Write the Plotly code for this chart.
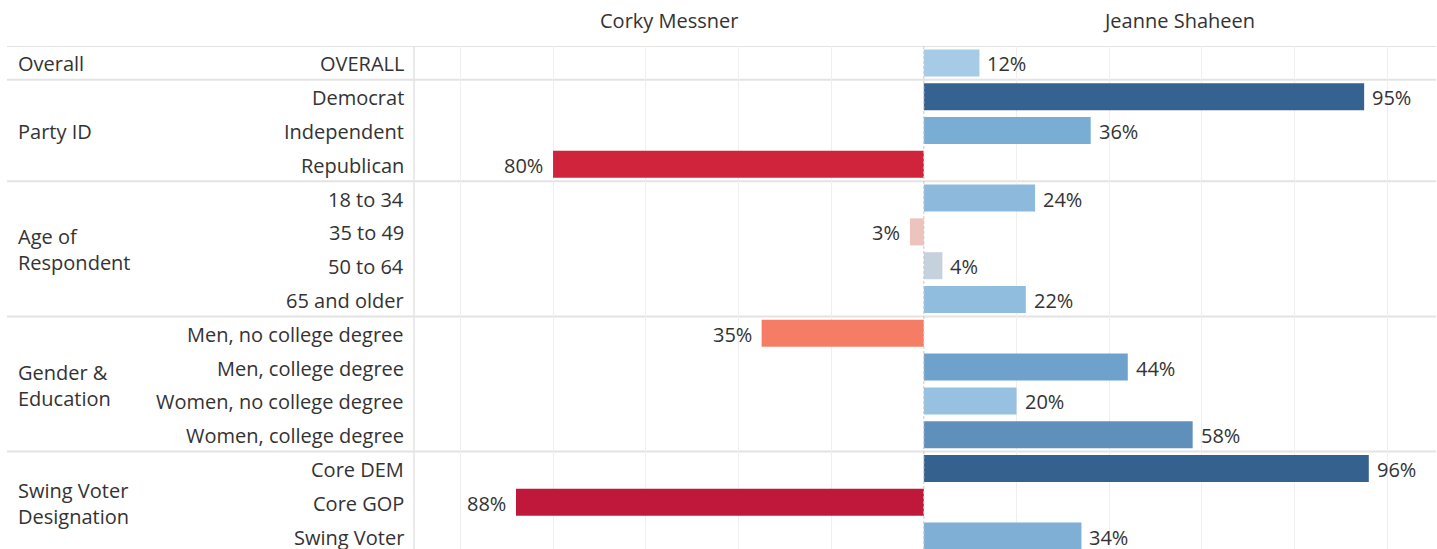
import plotly.graph_objects as go

# ---- data ----
groups = ["Overall", "Party ID", "Age of<br>Respondent", "Gender &<br>Education", "Swing Voter<br>Designation"]
group_sizes = [1, 3, 4, 4, 3]
rows = ["OVERALL", "Democrat", "Independent", "Republican",
        "18 to 34", "35 to 49", "50 to 64", "65 and older",
        "Men, no college degree", "Men, college degree", "Women, no college degree", "Women, college degree",
        "Core DEM", "Core GOP", "Swing Voter"]
# signed margin: negative = Corky Messner lead, positive = Jeanne Shaheen lead
margins = [12, 95, 36, -80, 24, -3, 4, 22, -35, 44, 20, 58, 96, -88, 34]
candidates = ["Corky Messner", "Jeanne Shaheen"]
colors = ["#a6cbe6", "#356290", "#7aadd3", "#cf243b", "#8dbadc", "#ecc3bd", "#c5d2dd", "#90bcdd",
          "#f57d66", "#6ea1cb", "#96c1e0", "#5f90bb", "#34618d", "#c0183a", "#7fafd5"]

FONT = "Open Sans"
TXT = "#333333"
FS = 20

W, H = 1437, 549
ML, MR, MT, MB = 414, 1, 46, 0
plot_w = W - ML - MR
row_px = 33.8
ymax = -0.5 + (H - MT - MB) / row_px

idx = list(range(len(rows)))

fig = go.Figure()
fig.add_trace(go.Bar(
    x=margins, y=idx, orientation="h", marker=dict(color=colors, line=dict(width=0)),
    width=0.8, hoverinfo="skip", showlegend=False,
))

ann = []
for i, v in enumerate(margins):
    ann.append(dict(x=v, y=i, xref="x", yref="y", text=f"{abs(v)}%", showarrow=False,
                    xanchor="left" if v >= 0 else "right", xshift=6 if v >= 0 else -8,
                    yshift=-1, font=dict(family=FONT, size=FS, color=TXT)))
    ann.append(dict(x=(406 - ML) / plot_w, y=i, xref="paper", yref="y", text=rows[i], showarrow=False,
                    xanchor="right", yshift=-1, font=dict(family=FONT, size=FS, color=TXT)))

start = 0
shapes = []
for g, n in zip(groups, group_sizes):
    center = start + (n - 1) / 2
    ann.append(dict(x=(16 - ML) / plot_w, y=center, xref="paper", yref="y", text=g, showarrow=False,
                    xanchor="left", align="left", yshift=-1, font=dict(family=FONT, size=FS, color=TXT)))
    shapes.append(dict(type="line", xref="paper", yref="y", x0=(7 - ML) / plot_w, x1=1,
                       y0=start - 0.5, y1=start - 0.5, line=dict(color="#e3e3e3", width=2), layer="below"))
    start += n

# column headers
hy = 1 + (MT - 20) / (H - MT - MB)
ann.append(dict(x=-55, y=hy, xref="x", yref="paper", text=candidates[0], yanchor="middle",
                showarrow=False, font=dict(family=FONT, size=FS, color=TXT)))
ann.append(dict(x=55, y=hy, xref="x", yref="paper", text=candidates[1], yanchor="middle",
                showarrow=False, font=dict(family=FONT, size=FS, color=TXT)))

# pane left border
shapes.append(dict(type="line", xref="paper", yref="paper", x0=0, x1=0, y0=0, y1=1,
                   line=dict(color="#e3e3e3", width=1.5), layer="below"))
# zero line dashed
shapes.append(dict(type="line", xref="x", yref="paper", x0=0, x1=0, y0=0, y1=1,
                   line=dict(color="#c8c8c8", width=1, dash="3px,2px"), layer="above"))

fig.update_layout(
    width=W, height=H, margin=dict(l=ML, r=MR, t=MT, b=MB),
    paper_bgcolor="white", plot_bgcolor="white",
    xaxis=dict(range=[-110, 110.5], tickvals=[-100, -80, -60, -40, -20, 20, 40, 60, 80, 100],
               showticklabels=False, showgrid=True, gridcolor="#efefef", gridwidth=1,
               zeroline=False, fixedrange=True),
    yaxis=dict(range=[ymax, -0.5], showticklabels=False, showgrid=False, zeroline=False, fixedrange=True),
    annotations=ann, shapes=shapes, bargap=0.2,
)
fig.write_html("out.html", config={"displayModeBar": False},
               post_script="document.body.style.margin='0';document.body.style.overflow='hidden';")
